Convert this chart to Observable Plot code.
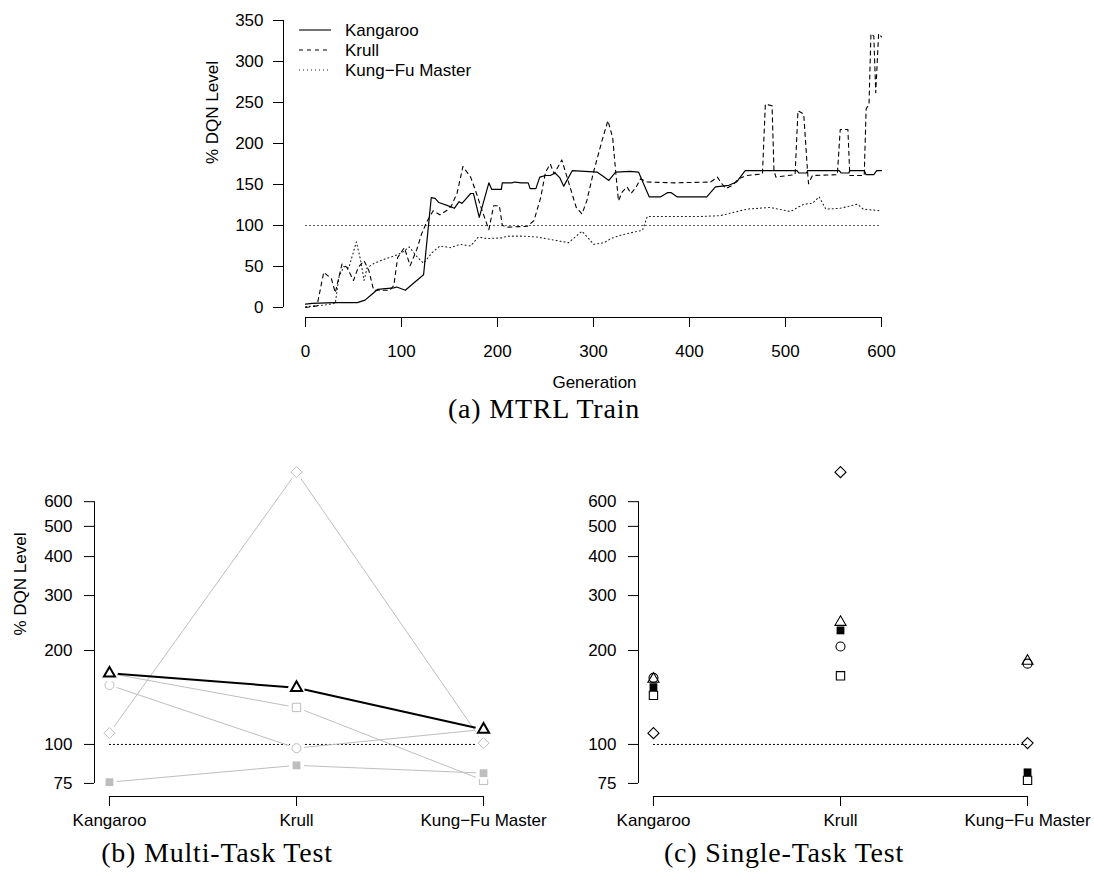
<!DOCTYPE html>
<html><head><meta charset="utf-8">
<script src="https://cdn.jsdelivr.net/npm/d3@7"></script>
<script src="https://cdn.jsdelivr.net/npm/@observablehq/plot@0.6"></script>
<style>
body{margin:0;background:#fff;}
#page{position:relative;width:1094px;height:883px;overflow:hidden;background:#fff;}
.panel{position:absolute;}
.cap{position:absolute;font-family:"Liberation Serif","DejaVu Serif",serif;font-size:28px;letter-spacing:0.8px;white-space:nowrap;transform:translateX(-50%);color:#000;line-height:1;}
</style></head><body><div id="page"></div>
<script>
// ---------- (a) MTRL Train : [generation, % DQN level] ----------
const kangarooTrain = [[0,4],[7,5],[30,6],[54,6],[62,9],[68,15],[75,22],[92,24],[95,25],[104,21],[114,31],[123,40],[131,134],[135,133],[139,128],[151,123],[155,121],[160,129],[163,127],[166,131],[172,139],[175,139],[181,110],[191,152],[194,144],[204,144],[205,152],[215,152],[218,153],[225,152],[232,152],[234,145],[240,145],[244,159],[250,161],[255,161],[260,164],[265,158],[269,148],[278,167],[304,165],[310,160],[316,155],[323,165],[338,166],[347,165],[358,135],[370,135],[377,140],[381,140],[387,135],[418,135],[427,147],[441,149],[449,153],[458,167],[512,167],[514,164],[522,164],[523,167],[556,167],[558,164],[566,164],[567,167],[582,167],[584,162],[592,162],[595,167],[600,167]];
const krullTrain = [[0,0],[12,2],[19,43],[27,35],[31,18],[38,53],[43,49],[50,33],[55,49],[61,57],[66,45],[71,21],[88,21],[92,27],[96,61],[103,73],[109,51],[116,71],[121,90],[127,106],[133,118],[140,113],[148,119],[152,124],[158,140],[164,172],[172,159],[177,143],[184,118],[191,95],[196,124],[202,124],[205,100],[210,98],[231,99],[238,106],[245,134],[250,165],[255,175],[259,163],[267,180],[274,153],[282,122],[288,114],[293,130],[300,165],[309,204],[315,228],[320,207],[323,167],[326,130],[330,141],[335,147],[339,139],[344,146],[349,157],[356,153],[384,152],[422,153],[429,159],[433,152],[438,145],[445,149],[451,157],[460,161],[476,163],[479,248],[486,246],[488,167],[490,159],[510,162],[513,240],[519,236],[523,165],[524,151],[528,161],[554,162],[557,217],[565,217],[567,161],[582,161],[584,242],[587,248],[589,334],[592,331],[594,262],[597,334],[600,330]];
const kungfuTrain = [[0,1],[10,2],[20,3],[31,5],[35,38],[40,50],[45,48],[53,80],[57,60],[61,33],[64,48],[70,53],[80,58],[95,64],[102,68],[108,74],[116,62],[123,54],[132,67],[140,75],[151,73],[161,77],[172,75],[180,86],[189,84],[205,85],[210,87],[227,87],[241,86],[255,83],[274,79],[288,93],[295,84],[300,77],[311,79],[318,84],[328,88],[342,92],[351,94],[356,111],[411,111],[432,112],[446,116],[460,120],[484,122],[505,117],[519,126],[528,127],[535,135],[542,120],[557,121],[575,126],[581,120],[598,118],[600,118]];
const trainNames = ["Kangaroo", "Krull", "Kung\u2212Fu Master"];
const genTicks = [0, 100, 200, 300, 400, 500, 600];
const pctTicks = [0, 50, 100, 150, 200, 250, 300, 350];

// ---------- (b) Multi-Task Test / (c) Single-Task Test ----------
const games = ["Kangaroo", "Krull", "Kung\u2212Fu Master"];
const multiTriangle = [169, 152, 111.7];
const multiDiamond = [108.7, 746, 101];
const multiCircle = [155, 97.3, 111.7];
const multiOpenSquare = [169, 131.4, 76.7];
const multiFilledSquare = [75.7, 85.7, 80.9];
const singleTriangle = [162, 246.6, 185];
const singleDiamond = [108.7, 746, 101];
const singleCircle = [163.5, 206, 181.5];
const singleOpenSquare = [143.6, 166, 76.7];
const singleFilledSquare = [152.6, 232, 81.4];
const logTicks = [75, 100, 200, 300, 400, 500, 600];

const FONT = "'Liberation Sans', Arial, Helvetica, sans-serif";
const baseStyle = {fontFamily: FONT, fontSize: "17px", background: "transparent", color: "black", overflow: "visible"};
const pageEl = document.getElementById("page");
function place(el, left, topPx) { el.classList.add("panel"); el.style.left = left + "px"; el.style.top = topPx + "px"; pageEl.appendChild(el); }
function caption(text, cx, topPx) { const d = document.createElement("div"); d.className = "cap"; d.textContent = text; d.style.left = cx + "px"; d.style.top = topPx + "px"; pageEl.appendChild(d); }

// ---------- top chart ----------
const xDomA = [-22.92, 625];
const yDomA = [-12.2, 362.2];
const chartA = Plot.plot({
  width: 1094, height: 397, marginTop: 10, marginBottom: 80, marginLeft: 283, marginRight: 189,
  style: baseStyle,
  x: {domain: xDomA, label: null},
  y: {domain: yDomA, label: null},
  marks: [
    Plot.ruleY([100], {x1: genTicks[0], x2: genTicks[genTicks.length - 1], stroke: "#555", strokeWidth: 1, strokeDasharray: "2,2"}),
    Plot.line(kungfuTrain, {x: d => d[0], y: d => d[1], stroke: "#222", strokeWidth: 1.1, strokeDasharray: "1,3"}),
    Plot.line(krullTrain, {x: d => d[0], y: d => d[1], stroke: "black", strokeWidth: 1.1, strokeDasharray: "4,4"}),
    Plot.line(kangarooTrain, {x: d => d[0], y: d => d[1], stroke: "black", strokeWidth: 1.2}),
    Plot.ruleY([yDomA[0]], {x1: genTicks[0], x2: genTicks[genTicks.length - 1], stroke: "black"}),
    Plot.ruleX([xDomA[0]], {y1: pctTicks[0], y2: pctTicks[pctTicks.length - 1], stroke: "black"}),
    Plot.axisX({ticks: genTicks, tickSize: 10, tickPadding: 17, label: null, tickFormat: d => String(d)}),
    Plot.axisY({ticks: pctTicks, tickSize: 10, tickPadding: 10, label: null, tickFormat: d => String(d)}),
    Plot.text(["Generation"], {frameAnchor: "bottom", dy: 70, fontSize: 17}),
    Plot.text(["% DQN Level"], {frameAnchor: "left", dx: -71, rotate: -90, fontSize: 17})
  ]
});
place(chartA, 0, 0);

// legend for top chart
const legend = d3.create("svg").attr("width", 260).attr("height", 80)
  .style("font-family", FONT).style("font-size", "17px");
const legDash = [null, "4,4", "1,3"];
trainNames.forEach((name, i) => {
  const y = 15 + i * 20;
  legend.append("line").attr("x1", 9).attr("x2", 41).attr("y1", y).attr("y2", y)
    .attr("stroke", i === 2 ? "#222" : "black").attr("stroke-width", 1.1)
    .attr("stroke-dasharray", legDash[i]);
  legend.append("text").attr("x", 55).attr("y", y + 6).text(name);
});
place(legend.node(), 290, 15);
caption("(a) MTRL Train", 544, 395);

// ---------- bottom charts ----------
const xDomB = [-0.08, 2.08];
const yDomB = [68.1, 813];
const pts = vals => vals.map((v, i) => ({i, v}));
function axesB(withLabel) {
  const m = [
    Plot.ruleY([yDomB[0]], {x1: 0, x2: games.length - 1, stroke: "black"}),
    Plot.ruleX([xDomB[0]], {y1: logTicks[0], y2: logTicks[logTicks.length - 1], stroke: "black"}),
    Plot.axisX({ticks: [0, 1, 2], tickFormat: i => games[i], tickSize: 10, tickPadding: 7, label: null}),
    Plot.axisY({ticks: logTicks, tickFormat: d => String(d), tickSize: 10, tickPadding: 12, label: null})
  ];
  if (withLabel) m.push(Plot.text(["% DQN Level"], {frameAnchor: "left", dx: -74, dy: 7, rotate: -90, fontSize: 17}));
  return m;
}
const GRAY = "#bebebe";
function seriesB(vals, symbol, r, color, sw, filled, lineW) {
  const d = pts(vals);
  return [
    Plot.line(d, {x: "i", y: "v", stroke: color, strokeWidth: lineW}),
    Plot.dot(d, {x: "i", y: "v", r: r + 3, fill: "white", stroke: "none"}),
    Plot.dot(d, {x: "i", y: "v", symbol: symbol, r: r, fill: filled ? color : "white", stroke: filled ? "none" : color, strokeWidth: sw})
  ];
}
const chartB = Plot.plot({
  width: 547, height: 396, marginTop: 20, marginBottom: 40, marginLeft: 94, marginRight: 49,
  style: baseStyle,
  x: {domain: xDomB, label: null},
  y: {type: "log", domain: yDomB, label: null},
  marks: [
    Plot.ruleY([100], {x1: 0, x2: games.length - 1, stroke: "black", strokeDasharray: "2,2"}),
    ...seriesB(multiDiamond, "diamond2", 5, GRAY, 1, false, 1),
    ...seriesB(multiCircle, "circle", 4.5, GRAY, 1, false, 1),
    ...seriesB(multiOpenSquare, "square2", 5.3, GRAY, 1, false, 1),
    ...seriesB(multiFilledSquare, "square", 4.4, GRAY, 1, true, 1),
    ...seriesB(multiTriangle, "triangle2", 5.3, "black", 2, false, 2),
    ...axesB(true)
  ]
});
place(chartB, 0, 440);

const dotC = (vals, symbol, r, filled) => Plot.dot(pts(vals), {x: "i", y: "v", symbol, r, fill: filled ? "black" : "none", stroke: filled ? "none" : "black", strokeWidth: 1.1});
const chartC = Plot.plot({
  width: 547, height: 396, marginTop: 20, marginBottom: 40, marginLeft: 91, marginRight: 52,
  style: baseStyle,
  x: {domain: xDomB, label: null},
  y: {type: "log", domain: yDomB, label: null},
  marks: [
    Plot.ruleY([100], {x1: 0, x2: games.length - 1, stroke: "black", strokeDasharray: "2,2"}),
    dotC(singleOpenSquare, "square2", 5.3, false),
    dotC(singleFilledSquare, "square", 4.4, true),
    dotC(singleDiamond, "diamond2", 5, false),
    dotC(singleTriangle, "triangle2", 5.3, false),
    dotC(singleCircle, "circle", 4.5, false),
    ...axesB(false)
  ]
});
place(chartC, 547, 440);

caption("(b) Multi-Task Test", 217, 839);
caption("(c) Single-Task Test", 784, 839);
</script>
</body></html>
